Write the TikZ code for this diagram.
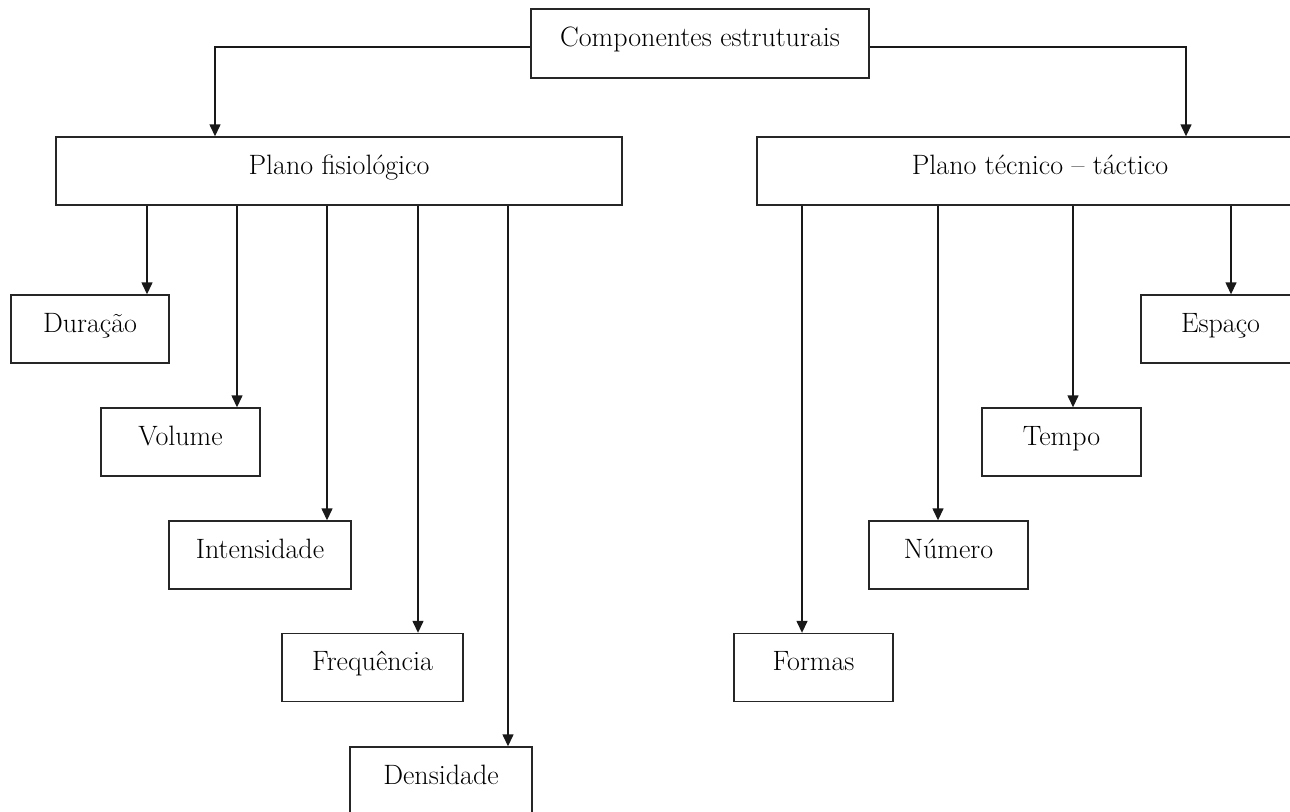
\documentclass[tikz,border=0pt]{standalone}
\usepackage{fontspec}
\usetikzlibrary{arrows.meta}
\begin{document}
\begin{tikzpicture}[x=1pt,y=-1pt,
  box/.style={draw=black!85, line width=1.4pt, rectangle, inner sep=0pt,
    minimum height=68pt, text height=20pt, text depth=14pt,
    font=\fontsize{28}{33}\selectfont},
  arr/.style={draw=black!90, line width=1.4pt, -{Triangle[width=11pt,length=12pt]}}
]
\useasboundingbox (0,0) rectangle (1290,811);
\clip (0,0) rectangle (1290,811);
\fill[white] (0,0) rectangle (1290,811);

\node[box, minimum width=338pt, minimum height=69pt] (top) at (700,43.5) {Componentes estruturais};
\node[box, minimum width=566pt] (fis) at (339,171) {Plano fisiológico};
\node[box, minimum width=566pt] (tec) at (1040,171) {Plano técnico – táctico};

\node[box, minimum width=158pt] (dur) at (90,329) {Duração};
\node[box, minimum width=159pt] (vol) at (180.5,442) {Volume};
\node[box, minimum width=182pt] (int) at (260,555) {Intensidade};
\node[box, minimum width=181pt] (fre) at (372.5,667.5) {Frequência};
\node[box, minimum width=182pt] (den) at (441,781) {Densidade};

\node[box, minimum width=159pt] (esp) at (1220.5,329) {Espaço};
\node[box, minimum width=159pt] (tem) at (1061.5,442) {Tempo};
\node[box, minimum width=159pt] (num) at (948.5,555) {Número};
\node[box, minimum width=159pt] (for) at (813.5,667.5) {Formas};

\draw[arr] ([yshift=-3.5pt]top.west) -- (215,47) -- (215,0 |- fis.north);
\draw[arr] ([yshift=-3.5pt]top.east) -- (1186,47) -- (1186,0 |- tec.north);

\draw[arr] (147,0 |- fis.south) -- (147,0 |- dur.north);
\draw[arr] (237,0 |- fis.south) -- (237,0 |- vol.north);
\draw[arr] (327,0 |- fis.south) -- (327,0 |- int.north);
\draw[arr] (418,0 |- fis.south) -- (418,0 |- fre.north);
\draw[arr] (508,0 |- fis.south) -- (508,0 |- den.north);

\draw[arr] (802,0 |- tec.south) -- (802,0 |- for.north);
\draw[arr] (938,0 |- tec.south) -- (938,0 |- num.north);
\draw[arr] (1073,0 |- tec.south) -- (1073,0 |- tem.north);
\draw[arr] (1231,0 |- tec.south) -- (1231,0 |- esp.north);
\end{tikzpicture}
\end{document}
